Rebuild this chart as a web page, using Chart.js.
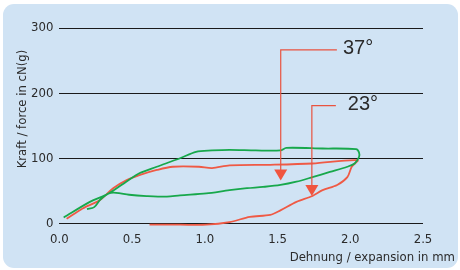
<!DOCTYPE html>
<html>
<head>
<meta charset="utf-8">
<script src="https://cdn.jsdelivr.net/npm/chart.js@4/dist/chart.umd.min.js"></script>
<style>
  html, body { margin: 0; padding: 0; background: #ffffff; }
  #wrap { width: 460px; height: 270px; }
</style>
</head>
<body>
<div id="wrap"><canvas id="kraft" width="460" height="270"></canvas></div>
<script>
// Dehnung (mm) / Kraft (cN) - Loop 37° (gruen)
var gruenX = [0.03, 0.21, 0.34, 0.46, 0.55, 0.67, 0.83, 0.94, 1.05, 1.17, 1.35, 1.52, 1.56, 1.81, 2.04, 2.06, 2.06,
              2.03, 1.98, 1.86, 1.74, 1.63, 1.52, 1.40, 1.29, 1.17, 1.01, 0.83, 0.74, 0.60, 0.48, 0.39, 0.34, 0.28, 0.24, 0.19];
var gruenY = [9, 33, 46, 64, 77, 87, 100, 110, 112, 113, 112, 112, 116, 115, 114, 109, 102,
              92, 87, 79, 71, 64, 59, 56, 54, 51, 46, 43, 41, 42, 44, 47, 46, 36, 25, 22];

// Loop 23° (rot)
var rotX = [0.05, 0.16, 0.28, 0.37, 0.46, 0.55, 0.67, 0.78, 0.96, 1.05, 1.17, 1.45, 1.74, 2.05,
            2.01, 1.98, 1.91, 1.81, 1.74, 1.63, 1.52, 1.45, 1.31, 1.17, 1.01, 0.83, 0.62];
var rotY = [7, 23, 36, 54, 66, 74, 82, 87, 87, 85, 89, 90, 92, 97,
            87, 71, 59, 51, 42, 33, 20, 13, 10, 2, -2, -2, -2];

var xTicks = [0, 0.5, 1.0, 1.5, 2.0, 2.5];
var yTicks = [0, 100, 200, 300];

// Winkel-Beschriftungen: Text, x der Senkrechten, Hoehe der Querlinie, Ende der Querlinie, Pfeilspitze
var winkelText = ['37°', '23°'];
var winkelX = [1.522, 1.736];
var winkelOben = [266.5, 180.7];
var winkelEnde = [1.908, 1.901];
var winkelSpitze = [66, 42];

var schrift = '"Liberation Sans Narrow", "DejaVu Sans Condensed", "Liberation Sans", sans-serif';

function punkte(xs, ys) {
  var p = [];
  for (var i = 0; i < xs.length; i++) p.push({ x: xs[i], y: ys[i] });
  return p;
}

// Hintergrund-Panel mit runden Ecken
var panel = {
  id: 'panel',
  beforeDraw: function(chart) {
    var ctx = chart.ctx;
    ctx.save();
    ctx.fillStyle = '#d0e3f4';
    ctx.beginPath();
    ctx.roundRect(3, 4, 455, 264, 11);
    ctx.fill();
    ctx.restore();
  }
};

// Achsentitel
var titel = {
  id: 'titel',
  afterDraw: function(chart) {
    var ctx = chart.ctx;
    ctx.save();
    ctx.fillStyle = '#2b2b2b';
    ctx.font = '13px ' + schrift;
    ctx.textAlign = 'right';
    ctx.textBaseline = 'middle';
    ctx.fillText('Dehnung / expansion in mm', 455, 258);
    ctx.translate(22.5, 109);
    ctx.rotate(-Math.PI / 2);
    ctx.textAlign = 'center';
    ctx.fillText('Kraft / force in cN(g)', 0, 0);
    ctx.restore();
  }
};

// Pfeile mit Winkelangabe
var pfeile = {
  id: 'pfeile',
  afterDatasetsDraw: function(chart) {
    var ctx = chart.ctx;
    var sx = chart.scales.x, sy = chart.scales.y;
    ctx.save();
    for (var i = 0; i < winkelText.length; i++) {
      var x = sx.getPixelForValue(winkelX[i]);
      var xe = sx.getPixelForValue(winkelEnde[i]);
      var yo = sy.getPixelForValue(winkelOben[i]);
      var ys = sy.getPixelForValue(winkelSpitze[i]);
      ctx.strokeStyle = '#e9533f';
      ctx.lineWidth = 1.2;
      ctx.beginPath();
      ctx.moveTo(xe, yo);
      ctx.lineTo(x, yo);
      ctx.lineTo(x, ys - 10);
      ctx.stroke();
      ctx.fillStyle = '#f0553f';
      ctx.beginPath();
      ctx.moveTo(x - 6.5, ys - 11);
      ctx.lineTo(x + 6.5, ys - 11);
      ctx.lineTo(x, ys);
      ctx.closePath();
      ctx.fill();
      ctx.fillStyle = '#2b2b2b';
      ctx.font = '20px "Liberation Sans", Arial, sans-serif';
      ctx.textAlign = 'left';
      ctx.textBaseline = 'middle';
      ctx.fillText(winkelText[i], xe + (i === 0 ? 6 : 12), yo - 1);
    }
    ctx.restore();
  }
};

new Chart(document.getElementById('kraft').getContext('2d'), {
  type: 'scatter',
  data: {
    datasets: [{
      data: punkte(gruenX, gruenY),
      showLine: true,
      borderColor: '#17a84b',
      borderWidth: 1.8,
      pointRadius: 0,
      tension: 0.3,
      clip: false
    }, {
      data: punkte(rotX, rotY),
      showLine: true,
      borderColor: '#ef5a45',
      borderWidth: 1.8,
      pointRadius: 0,
      tension: 0.3,
      clip: false
    }]
  },
  options: {
    responsive: false,
    animation: false,
    events: [],
    layout: { padding: { left: 25, top: 28, right: 37, bottom: 23 } },
    plugins: { legend: { display: false }, tooltip: { enabled: false } },
    scales: {
      x: {
        type: 'linear',
        min: 0,
        max: 2.5,
        afterBuildTicks: function(axis) { axis.ticks = xTicks.map(function(v) { return { value: v }; }); },
        grid: { display: false },
        border: { display: false },
        ticks: {
          color: '#2b2b2b',
          padding: 0,
          font: { family: schrift, size: 13 },
          callback: function(v) { return v.toFixed(1); }
        }
      },
      y: {
        min: 0,
        max: 300,
        afterBuildTicks: function(axis) { axis.ticks = yTicks.map(function(v) { return { value: v }; }); },
        grid: { color: '#1a1a1a', lineWidth: 1, drawTicks: false },
        border: { display: false },
        ticks: {
          color: '#2b2b2b',
          padding: 6,
          font: { family: schrift, size: 13 }
        }
      }
    }
  },
  plugins: [panel, titel, pfeile]
});
</script>
</body>
</html>
